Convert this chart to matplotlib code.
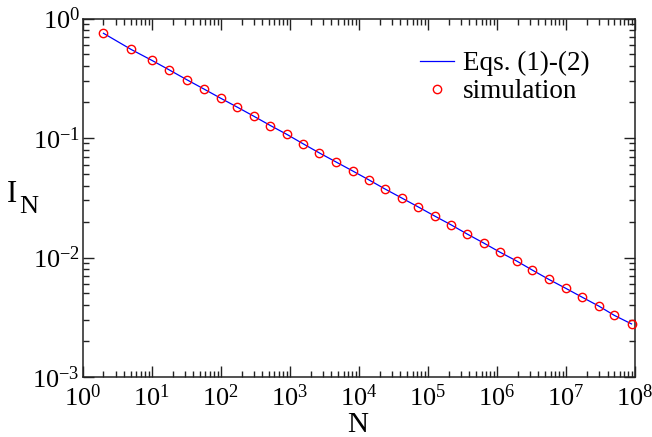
import matplotlib
matplotlib.use("Agg")
import matplotlib.pyplot as plt
from matplotlib.ticker import LogLocator, LogFormatterMathtext, NullFormatter

plt.rcParams['font.family'] = ['Liberation Serif', 'DejaVu Serif']
plt.rcParams['mathtext.fontset'] = 'custom'
plt.rcParams['mathtext.rm'] = 'Liberation Serif'
plt.rcParams['mathtext.it'] = 'Liberation Serif:italic'
plt.rcParams['mathtext.bf'] = 'Liberation Serif:bold'

# simulation data
sim_N = [2, 5, 10, 18, 32, 57, 100, 174, 302, 525, 912, 1550, 2690, 4680,
         8130, 14100, 24000, 41700, 72400, 126000, 219000, 372000, 646000,
         1100000, 1930000, 3240000, 5620000, 9890000, 17200000, 30200000,
         50100000, 89100000]
sim_I = [0.752, 0.552, 0.447, 0.371, 0.308, 0.257, 0.215, 0.181, 0.152,
         0.127, 0.107, 0.0896, 0.0749, 0.0630, 0.0530, 0.0445, 0.0374,
         0.0315, 0.0265, 0.0222, 0.0187, 0.0157, 0.0132, 0.0111, 0.00935,
         0.00786, 0.00657, 0.00553, 0.00465, 0.00391, 0.00328, 0.00278]

# Eqs. (1)-(2) curve
eq_N = sim_N
eq_I = sim_I

W, H = 652, 437
fig = plt.figure(figsize=(W / 100, H / 100), dpi=100)
ax = fig.add_axes([82.7 / W, 1 - 377 / H, (635 - 82.7) / W, (377 - 18.5) / H])

ax.plot(eq_N, eq_I, color='#0000ff', lw=0.9, label='Eqs. (1)-(2)', zorder=2)
ax.plot(sim_N, sim_I, ls='none', marker='o', ms=6, mfc='none', mec='#ff0000',
        mew=1.0, label='simulation', zorder=3, clip_on=False)

ax.set_xscale('log')
ax.set_yscale('log')
ax.set_xlim(1, 1e8)
ax.set_ylim(1e-3, 1)

ax.xaxis.set_major_locator(LogLocator(base=10, numticks=20))
ax.xaxis.set_minor_locator(LogLocator(base=10, subs=range(2, 10), numticks=100))
ax.yaxis.set_major_locator(LogLocator(base=10, numticks=20))
ax.yaxis.set_minor_locator(LogLocator(base=10, subs=range(2, 10), numticks=100))
ax.xaxis.set_major_formatter(LogFormatterMathtext())
ax.yaxis.set_major_formatter(LogFormatterMathtext())
ax.xaxis.set_minor_formatter(NullFormatter())
ax.yaxis.set_minor_formatter(NullFormatter())

ax.tick_params(which='both', direction='in', top=True, right=True,
               color='#222222', width=1.0)
ax.tick_params(which='major', length=8, labelsize=19, pad=5)
ax.tick_params(axis='y', which='major', pad=2)
ax.tick_params(which='minor', length=4)
for s in ax.spines.values():
    s.set_linewidth(1.1)
    s.set_color('#222222')

# axis labels
fig.text(358 / W, 1 - 432 / H, 'N', fontsize=21, ha='center', va='baseline')
fig.text(7 / W, 1 - 202 / H, 'I', fontsize=22, ha='left', va='baseline')
fig.text(19 / W, 1 - 213 / H, 'N', fontsize=19, ha='left', va='baseline')

leg = ax.legend(loc='upper left', bbox_to_anchor=((420 - 82.7) / 552.3, (377 - 51) / 358.5),
                frameon=False, fontsize=19.5, handlelength=1.25, handletextpad=0.35,
                labelspacing=0.12, borderaxespad=0.0, borderpad=0.0)

fig.savefig('out.png', dpi=100)
